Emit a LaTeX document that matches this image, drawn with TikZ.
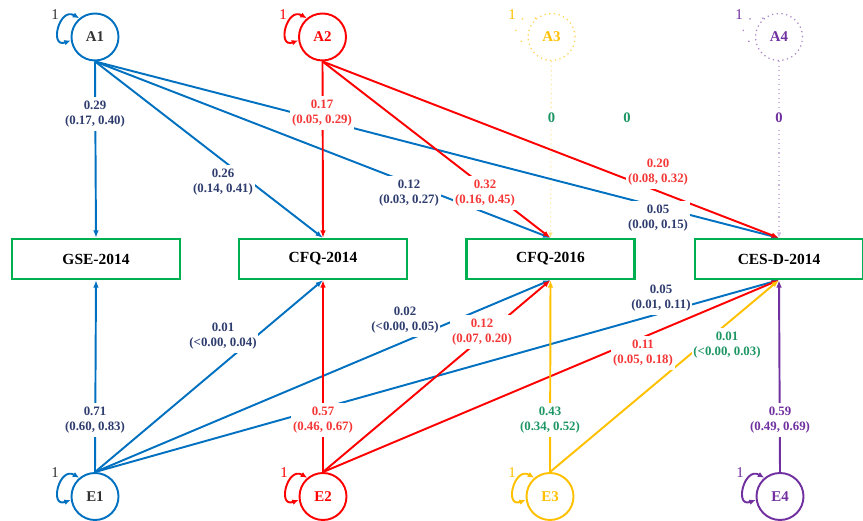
\documentclass[tikz,border=0pt]{standalone}
\usepackage{fontspec}
\setmainfont{Liberation Serif}
\usetikzlibrary{arrows.meta}

\definecolor{pathblue}{RGB}{0,112,192}
\definecolor{pathred}{RGB}{255,0,0}
\definecolor{pathyellow}{RGB}{255,192,0}
\definecolor{pathpurple}{RGB}{112,48,160}
\definecolor{boxgreen}{RGB}{0,176,80}
\definecolor{labblue}{RGB}{46,60,110}
\definecolor{labred}{RGB}{245,55,55}
\definecolor{labgreen}{RGB}{30,150,100}

\tikzset{
    latent/.style={circle, draw, line width=1.1pt, minimum size=0.94cm, inner sep=0pt,
        font=\fontsize{8.5}{10}\selectfont\bfseries},
    ghost/.style={circle, draw, line width=0.7pt, dotted, minimum size=0.94cm, inner sep=0pt,
        font=\fontsize{8.5}{10}\selectfont\bfseries},
    obsbox/.style={rectangle, draw=boxgreen, line width=1.2pt, minimum width=3.36cm,
        minimum height=0.8cm, font=\fontsize{8.8}{10}\selectfont\bfseries},
    load/.style={line width=1.1pt, -{Latex[length=1.5mm,width=1.1mm]}},
    faint/.style={line width=0.6pt, dotted, -{Latex[length=1.1mm,width=0.9mm]}},
    varloop/.style={line width=1.1pt, {Latex[length=1.3mm,width=1.1mm]}-{Latex[length=1.3mm,width=1.1mm]}},
    ghostloop/.style={line width=0.7pt, dash pattern=on 0.8pt off 7pt},
    est/.style={fill=white, inner xsep=1pt, inner ysep=2pt, align=center,
        font=\fontsize{7.3}{8.4}\selectfont\bfseries},
    zero/.style={fill=white, inner sep=2pt, font=\fontsize{8.3}{9}\selectfont\bfseries},
    varnum/.style={inner sep=0pt, font=\fontsize{8.5}{9}\selectfont},
}

\begin{document}
\begin{tikzpicture}
        \useasboundingbox (0, 0) rectangle (17.26, 10.42);

        % Latent factors
        \node[latent, draw=pathblue, text=black!80] (A1) at (1.90, 9.68) {A1};
        \node[latent, draw=pathred, text=pathred] (A2) at (6.45, 9.68) {A2};
        \node[ghost, draw=pathyellow!70, text=pathyellow] (A3) at (11.03, 9.68) {A3};
        \node[ghost, draw=pathpurple!60, text=pathpurple] (A4) at (15.58, 9.68) {A4};

        \node[latent, draw=pathblue, text=black!80] (E1) at (1.90, 0.49) {E1};
        \node[latent, draw=pathred, text=pathred] (E2) at (6.46, 0.49) {E2};
        \node[latent, draw=pathyellow, text=pathyellow] (E3) at (11.00, 0.49) {E3};
        \node[latent, draw=pathpurple, text=pathpurple] (E4) at (15.60, 0.49) {E4};

        % Measures
        \node[obsbox] (GSE) at (1.92, 5.24) {GSE-2014};
        \node[obsbox] (CFQ14) at (6.46, 5.24) {CFQ-2014};
        \node[obsbox] (CFQ16) at (11.01, 5.24) {CFQ-2016};
        \node[obsbox] (CESD) at (15.58, 5.24) {CES-D-2014};

        % Variances
        \draw[varloop, pathblue] (A1.130) to[out=150, in=200, looseness=2.5] (A1.188);
        \draw[varloop, pathred] (A2.130) to[out=150, in=200, looseness=2.5] (A2.188);
        \draw[ghostloop, pathyellow!70] (A3.130) to[out=150, in=200, looseness=2.5] (A3.188);
        \draw[ghostloop, pathpurple!60] (A4.130) to[out=150, in=200, looseness=2.5] (A4.188);
        \draw[varloop, pathblue] (E1.130) to[out=150, in=200, looseness=2.5] (E1.188);
        \draw[varloop, pathred] (E2.130) to[out=150, in=200, looseness=2.5] (E2.188);
        \draw[varloop, pathyellow] (E3.130) to[out=150, in=200, looseness=2.5] (E3.188);
        \draw[varloop, pathpurple] (E4.130) to[out=150, in=200, looseness=2.5] (E4.188);

        \node[varnum, text=black!80] (vA1) at (1.10, 10.12) {1};
        \node[varnum, text=pathred] (vA2) at (5.66, 10.12) {1};
        \node[varnum, text=pathyellow] (vA3) at (10.24, 10.12) {1};
        \node[varnum, text=pathpurple] (vA4) at (14.78, 10.12) {1};
        \node[varnum, text=black!80] (vE1) at (1.10, 0.96) {1};
        \node[varnum, text=pathred] (vE2) at (5.68, 0.96) {1};
        \node[varnum, text=pathyellow] (vE3) at (10.24, 0.96) {1};
        \node[varnum, text=pathpurple] (vE4) at (14.80, 0.96) {1};

        % Paths from A1
        \draw[load, pathblue] (A1.south) -- (GSE.north);
        \draw[load, pathblue] (A1.south) -- (CFQ14.north);
        \draw[load, pathblue] (A1.south) -- (CFQ16.north);
        \draw[load, pathblue] (A1.south) -- (CESD.north);
        % Paths from A2
        \draw[load, pathred] (A2.south) -- (CFQ14.north);
        \draw[load, pathred] (A2.south) -- (CFQ16.north);
        \draw[load, pathred] (A2.south) -- (CESD.north);
        % Paths from A3, A4 (fixed to 0)
        \draw[faint, pathyellow!45] (A3.south) -- (CFQ16.north);
        \draw[faint, pathpurple!35] (A4.south) -- (CESD.north);

        % Paths from E1
        \draw[load, pathblue] (E1.north) -- (GSE.south);
        \draw[load, pathblue] (E1.north) -- (CFQ14.south);
        \draw[load, pathblue] (E1.north) -- (CFQ16.south);
        \draw[load, pathblue] (E1.north) -- (CESD.south);
        % Paths from E2
        \draw[load, pathred] (E2.north) -- (CFQ14.south);
        \draw[load, pathred] (E2.north) -- (CFQ16.south);
        \draw[load, pathred] (E2.north) -- (CESD.south);
        % Paths from E3
        \draw[load, pathyellow] (E3.north) -- (CFQ16.south);
        \draw[load, pathyellow] (E3.north) -- (CESD.south);
        % Path from E4
        \draw[load, pathpurple] (E4.north) -- (CESD.south);

        % Estimates, upper half
        \node[est, text=labblue] (l1) at (1.90, 8.14) {0.29\\(0.17, 0.40)};
        \node[est, text=labblue] (l2) at (4.46, 6.78) {0.26\\(0.14, 0.41)};
        \node[est, text=labblue] (l3) at (8.18, 6.56) {0.12\\(0.03, 0.27)};
        \node[est, text=labblue] (l4) at (13.16, 6.06) {0.05\\(0.00, 0.15)};
        \node[est, text=labred] (l5) at (6.44, 8.16) {0.17\\(0.05, 0.29)};
        \node[est, text=labred] (l6) at (9.70, 6.56) {0.32\\(0.16, 0.45)};
        \node[est, text=labred] (l7) at (13.16, 6.98) {0.20\\(0.08, 0.32)};
        \node[zero, text=labgreen] (z1) at (11.03, 8.06) {0};
        \node[zero, text=labgreen] (z2) at (12.54, 8.06) {0};
        \node[zero, text=pathpurple] (z3) at (15.58, 8.06) {0};

        % Estimates, lower half
        \node[est, text=labblue] (l11) at (1.90, 2.02) {0.71\\(0.60, 0.83)};
        \node[est, text=labblue] (l12) at (4.46, 3.70) {0.01\\(<0.00, 0.04)};
        \node[est, text=labblue] (l13) at (8.10, 4.02) {0.02\\(<0.00, 0.05)};
        \node[est, text=labblue] (l14) at (13.22, 4.46) {0.05\\(0.01, 0.11)};
        \node[est, text=labred] (l15) at (6.46, 2.02) {0.57\\(0.46, 0.67)};
        \node[est, text=labred] (l16) at (9.64, 3.78) {0.12\\(0.07, 0.20)};
        \node[est, text=labred] (l17) at (12.86, 3.36) {0.11\\(0.05, 0.18)};
        \node[est, text=labgreen] (l18) at (11.00, 2.02) {0.43\\(0.34, 0.52)};
        \node[est, text=labgreen] (l19) at (14.54, 3.52) {0.01\\(<0.00, 0.03)};
        \node[est, text=pathpurple] (l20) at (15.60, 2.02) {0.59\\(0.49, 0.69)};

    \end{tikzpicture}
\end{document}
